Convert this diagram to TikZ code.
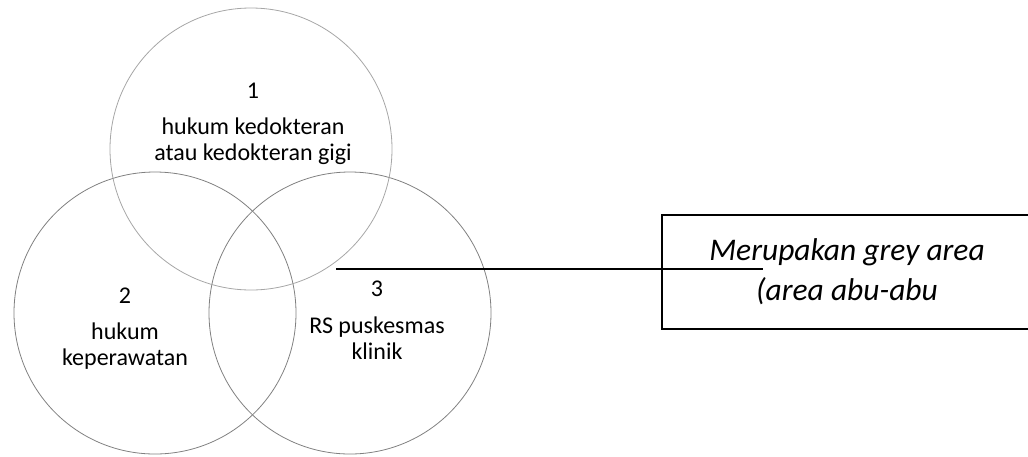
\documentclass[tikz,border=0pt]{standalone}
\usepackage{fontspec}
\setmainfont{Carlito}
\usetikzlibrary{positioning}
\tikzstyle{setcircle} = [circle, minimum size=282pt, inner sep=0pt, draw=black!50, line width=0.8pt]
\tikzstyle{setnum} = [inner sep=0pt, font=\fontsize{24}{26}\selectfont]
\tikzstyle{settext} = [inner sep=0pt, text centered, align=center, font=\fontsize{24}{26}\selectfont]
\tikzstyle{notebox} = [rectangle, minimum width=370pt, minimum height=114pt, align=center, draw=black, line width=1.6pt, font=\fontsize{31.5}{40}\selectfont\itshape]
\tikzstyle{pointer} = [line width=1.8pt]

\begin{document}
\begin{tikzpicture}[x=1pt, y=-1pt]

\useasboundingbox (0,0) rectangle (1028,456);

\node (kep) [setcircle] at (155,313) {};
\node (rs) [setcircle] at (350,313) {};
\node (dok) [setcircle, draw=black!35] at (251,149) {};

\node (num1) [setnum] at (253,91) {1};
\node (txt1) [settext, below=19pt of num1] {hukum kedokteran\\atau kedokteran gigi};

\node (num2) [setnum] at (125,296) {2};
\node (txt2) [settext, below=19pt of num2] {hukum\\keperawatan};

\node (num3) [setnum] at (377,289) {3};
\node (txt3) [settext, below=20pt of num3] {RS puskesmas\\klinik};

\node (note) [notebox] at (847,272) {Merupakan grey area\\(area abu-abu};

\coordinate (grey) at (336,269);
\coordinate (noteend) at (763,269);
\draw [pointer] (grey) -- (noteend);

\end{tikzpicture}
\end{document}
